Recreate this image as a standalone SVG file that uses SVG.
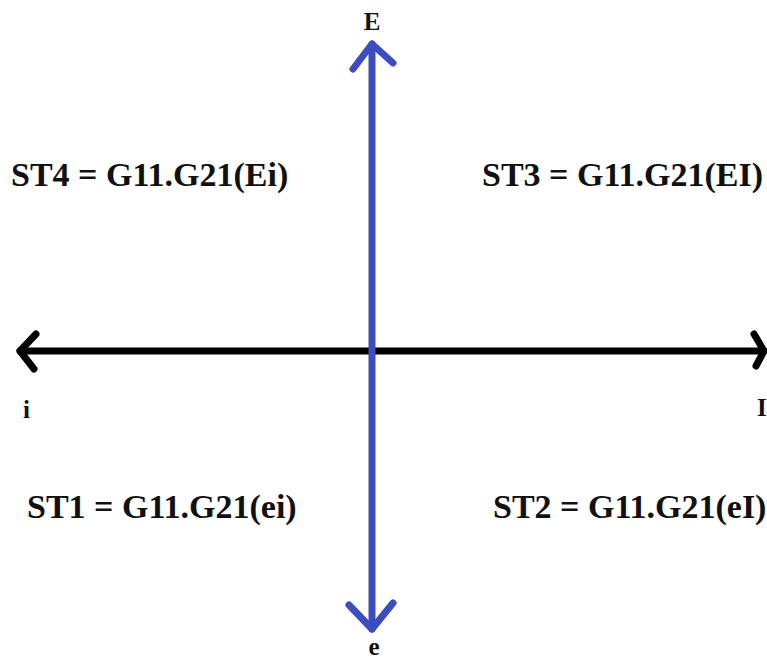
<svg xmlns="http://www.w3.org/2000/svg" width="767" height="662" viewBox="0 0 767 662">
<style>
.lbl{font-family:"Liberation Serif","Times New Roman",serif;font-weight:bold;fill:#111}
.eq{font-size:34px}
.ax{font-size:25px}
.h{stroke:#000;stroke-width:7;fill:none;stroke-linecap:round;stroke-linejoin:round}
.v{stroke:#3d4cc0;stroke-width:7;fill:none;stroke-linecap:round;stroke-linejoin:round}
</style>
<rect width="767" height="662" fill="#fff"/>
<g id="connectors">
<line class="h" x1="20" y1="351" x2="764" y2="351"/>
<polyline class="h" points="36,334 20,351 34,369"/>
<polyline class="h" points="754,334 764,351 756,366"/>
<line class="v" x1="372" y1="44" x2="372" y2="629"/>
<polyline class="v" points="353,69 372,44 393,63"/>
<polyline class="v" points="349,605 372,629 393,603"/>
</g>
<g id="label-E"><text class="lbl ax" x="372" y="30" text-anchor="middle">E</text></g>
<g id="label-e"><text class="lbl ax" x="374" y="655" text-anchor="middle">e</text></g>
<g id="label-i"><text class="lbl ax" x="23" y="418">i</text></g>
<g id="label-I"><text class="lbl ax" x="757" y="416">I</text></g>
<g id="st4"><text class="lbl eq" x="11" y="186">ST4 = G11.G21(Ei)</text></g>
<g id="st3"><text class="lbl eq" x="482" y="186">ST3 = G11.G21(EI)</text></g>
<g id="st1"><text class="lbl eq" x="27" y="518">ST1 = G11.G21(ei)</text></g>
<g id="st2"><text class="lbl eq" x="493" y="518">ST2 = G11.G21(eI)</text></g>
</svg>
